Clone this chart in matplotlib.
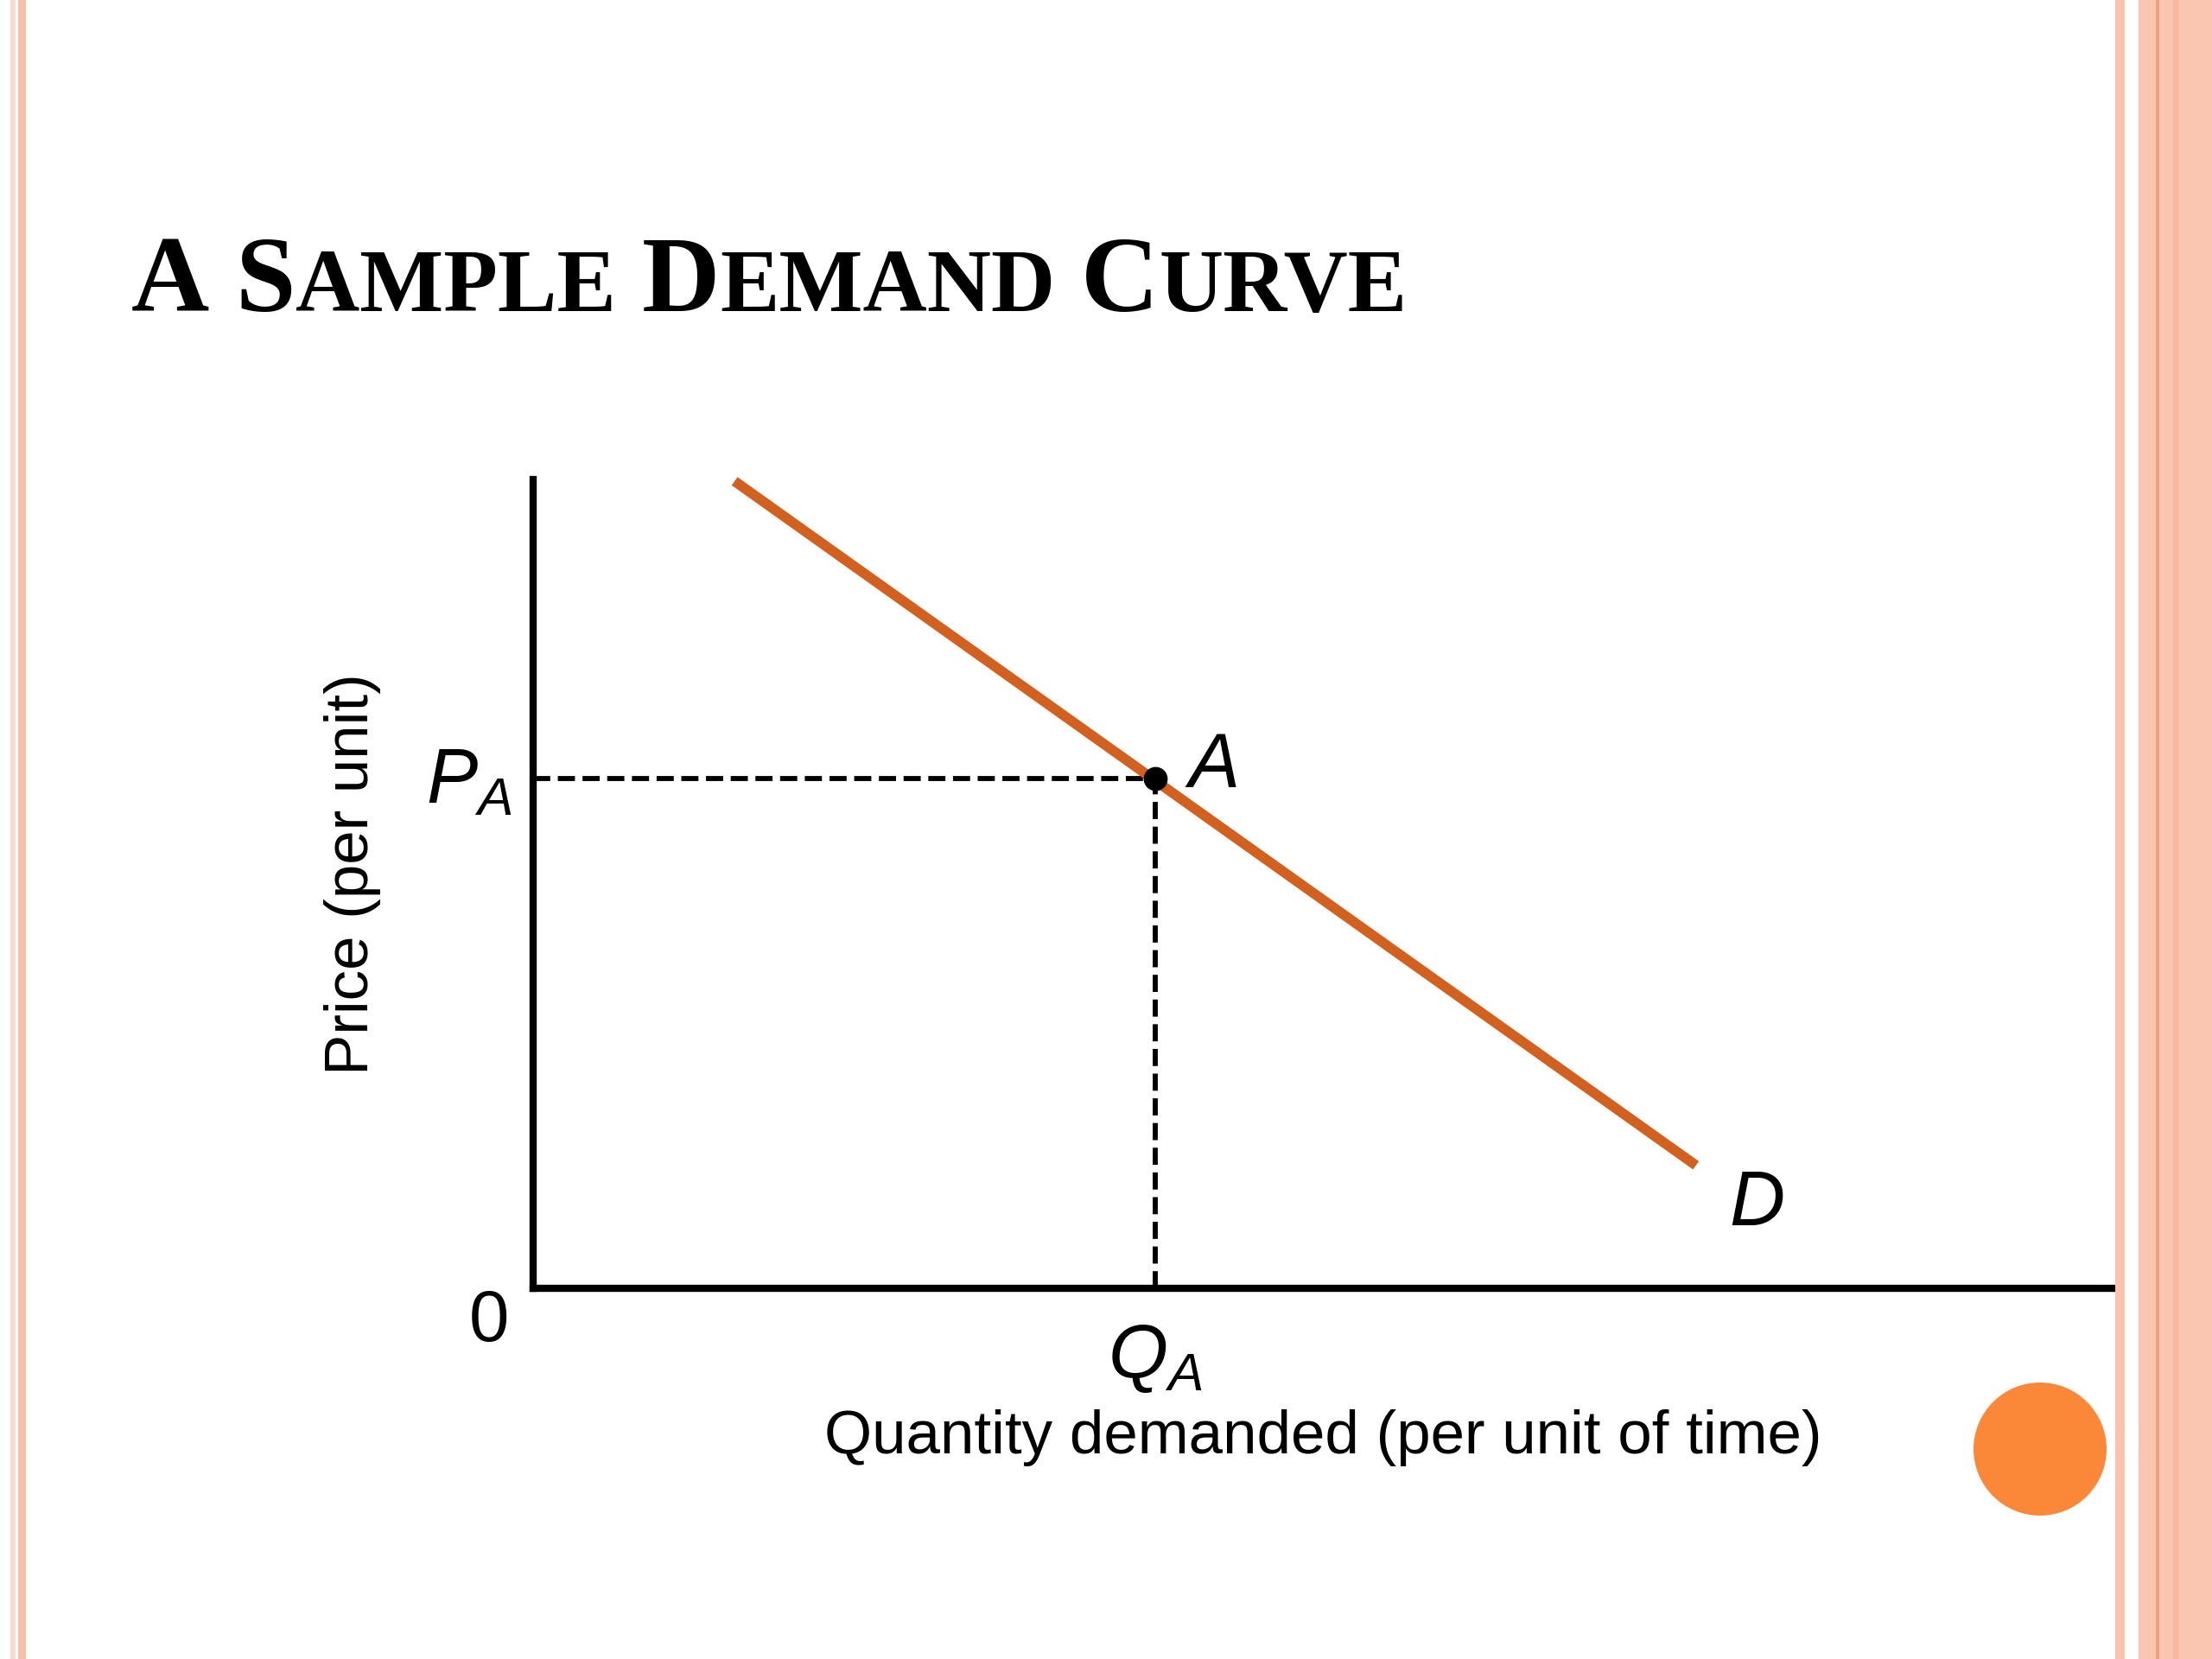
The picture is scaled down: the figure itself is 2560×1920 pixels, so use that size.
import matplotlib
matplotlib.use("Agg")
import matplotlib.pyplot as plt
from matplotlib.patches import Rectangle, Ellipse

plt.rcParams['font.family'] = ['Liberation Sans', 'DejaVu Sans']
plt.rcParams['mathtext.fontset'] = 'custom'
plt.rcParams['mathtext.rm'] = 'Liberation Sans'
plt.rcParams['mathtext.it'] = 'Liberation Sans:italic'

# Chart data (arbitrary units, 0..10 on both axes)
demand_qty = [1.27, 7.33]
demand_price = [9.98, 1.52]
point_qty = 3.92
point_price = 6.30
title_words = ['A', 'Sample', 'Demand', 'Curve']

W, H = 2560, 1920
DPI = 200
fig = plt.figure(figsize=(W / DPI, H / DPI), dpi=DPI)
fig.patch.set_facecolor('white')

# slide border stripes
def stripe(x0, x1, color):
    fig.patches.append(Rectangle((x0 / W, 0), (x1 - x0) / W, 1, transform=fig.transFigure,
                                 facecolor=color, edgecolor='none', zorder=0))

stripe(12, 18, '#F7DCD2')
stripe(21, 30, '#FBBFA9')
stripe(2448, 2459, '#FAC3AE')
stripe(2475, 2560, '#FBC6B1')
stripe(2495, 2499, '#E9A384')
stripe(2515, 2521, '#F5B99E')

# orange dot at the bottom right
fig.patches.append(Ellipse((2361 / W, 1 - 1677 / H), 154 / W, 154 / H, transform=fig.transFigure,
                           facecolor='#FA8838', edgecolor='none', zorder=1))

# small caps title
renderer = fig.canvas.get_renderer()
x = 152
base_y = 1 - 360 / H
big, small = 45, 37
for word in title_words:
    pieces = [(word[0], big)]
    if len(word) > 1:
        pieces.append((word[1:].upper(), small))
    for txt, size in pieces:
        t = fig.text(x / W, base_y, txt, fontsize=size, fontweight='bold',
                     family='Liberation Serif', va='baseline', ha='left')
        x += t.get_window_extent(renderer).width
    x += 30

# axes
ax = fig.add_axes([617 / W, 1 - 1491 / H, (2453 - 617) / W, (1491 - 555) / H])
ax.set_xlim(0, 10)
ax.set_ylim(0, 10)
ax.set_xticks([])
ax.set_yticks([])
for side in ['top', 'right']:
    ax.spines[side].set_visible(False)
for side in ['left', 'bottom']:
    ax.spines[side].set_linewidth(3.0)
    ax.spines[side].set_capstyle('projecting')
ax.patch.set_alpha(0)

# dashed guides
dash_kw = dict(color='black', lw=2.1, dashes=(3.4, 1.5), clip_on=False, zorder=2)
ax.plot([0, point_qty], [point_price, point_price], **dash_kw)
ax.plot([point_qty, point_qty], [0, point_price], **dash_kw)

# demand curve
ax.plot(demand_qty, demand_price, color='#D2601E', lw=4.2, solid_capstyle='butt',
        clip_on=False, zorder=3)
ax.plot([point_qty], [point_price], 'o', color='black', ms=9, clip_on=False, zorder=4)

# labels
ax.annotate('$P_A$', xy=(0, point_price), xytext=(-9, -2), textcoords='offset points',
            ha='right', va='center', fontsize=32)
ax.annotate('$Q_A$', xy=(point_qty, 0), xytext=(0, -14), textcoords='offset points',
            ha='center', va='top', fontsize=32)
ax.annotate('0', xy=(0, 0), xytext=(-10, 0), textcoords='offset points',
            ha='right', va='top', fontsize=30)
ax.annotate('A', xy=(point_qty, point_price), xytext=(14, -3.6), textcoords='offset points',
            ha='left', va='baseline', fontsize=32, style='italic')
ax.annotate('D', xy=(demand_qty[-1], demand_price[-1]), xytext=(14, -25),
            textcoords='offset points', ha='left', va='baseline', fontsize=32, style='italic')

ax.text(0.498, -0.204, 'Quantity demanded (per unit of time)', transform=ax.transAxes,
        ha='center', va='baseline', fontsize=25.5)
ax.text(-0.114, 0.512, 'Price (per unit)', transform=ax.transAxes, rotation=90,
        ha='center', va='center', fontsize=25.5)

fig.savefig('out.png', dpi=DPI)
